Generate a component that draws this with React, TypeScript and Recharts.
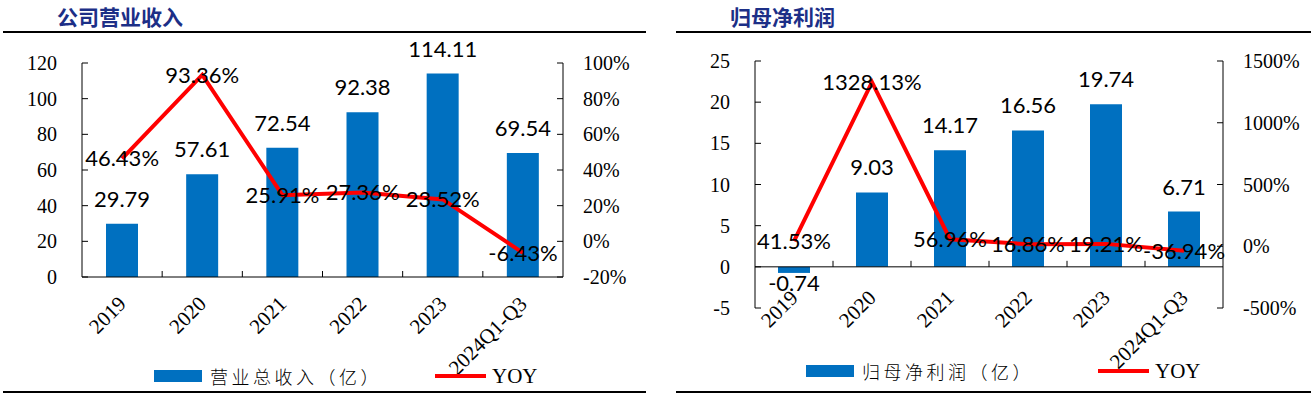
import React from "react";
import { Bar, ComposedChart, LabelList, Line, ReferenceLine, XAxis, YAxis } from "recharts";

const years = ["2019", "2020", "2021", "2022", "2023", "2024Q1-Q3"];
const revenue = [29.79, 57.61, 72.54, 92.38, 114.11, 69.54];
const revenueYoy = [46.43, 93.36, 25.91, 27.36, 23.52, -6.43];
const profit = [-0.74, 9.03, 14.17, 16.56, 19.74, 6.71];
const profitYoy = [41.53, 1328.13, 56.96, 16.86, 19.21, -36.94];

const revTicks = [0, 20, 40, 60, 80, 100, 120];
const revYoyTicks = [-20, 0, 20, 40, 60, 80, 100];
const profitTicks = [-5, 0, 5, 10, 15, 20, 25];
const profitYoyTicks = [-500, 0, 500, 1000, 1500];

const BLUE = "#0070C0";
const RED = "#FF0000";
const NAVY = "#1c2f87";
const SERIF = "'Liberation Serif', 'Times New Roman', serif";
const SANS = "Lato, 'Open Sans', sans-serif";
const CJK = "'Noto Sans CJK SC', sans-serif";

type PanelCfg = {
  left: number;
  width: number;
  title: string;
  titleX: number;
  plotL: number; // y-axis x (local)
  plotR: number; // right axis x (local)
  plotTop: number;
  plotBottom: number;
  bars: number[];
  yoy: number[];
  ticks: number[];
  yoyTicks: number[];
  xLabelGap: number;
  legendName: string;
  legendY: number;
  legendRectX: number;
  legendLineX: number;
};

const H = 396;

function Panel({ c }: { c: PanelCfg }) {
  const data = years.map((y, i) => ({ year: y, value: c.bars[i], yoy: c.yoy[i] }));
  const bw = (c.plotR - c.plotL) / years.length;
  const span = c.ticks[c.ticks.length - 1] - c.ticks[0];
  const plotH = c.plotBottom - c.plotTop;
  const zeroY = c.plotTop + ((c.ticks[c.ticks.length - 1] - 0) / span) * plotH;

  const leftTick = (p: any) => (
    <g>
      <line x1={c.plotL} x2={c.plotL + 6} y1={p.y} y2={p.y} stroke="#000" />
      <text x={c.plotL - 25} y={p.y} dy="0.35em" textAnchor="end" fontFamily={SERIF} fontSize={20} fill="#000">
        {p.payload.value}
      </text>
    </g>
  );
  const rightTick = (p: any) => (
    <g>
      <line x1={c.plotR - 6} x2={c.plotR} y1={p.y} y2={p.y} stroke="#000" />
      <text x={c.plotR + 20} y={p.y} dy="0.35em" textAnchor="start" fontFamily={SERIF} fontSize={20} fill="#000">
        {p.payload.value}%
      </text>
    </g>
  );
  const xTick = (p: any) => {
    const ax = p.x;
    const ay = zeroY + c.xLabelGap;
    return (
      <g>
        {p.index > 0 && (
          <line x1={ax - bw / 2} x2={ax - bw / 2} y1={zeroY} y2={zeroY - 6} stroke="#000" />
        )}
        <text
          x={ax}
          y={ay}
          dy="0.35em"
          textAnchor="end"
          transform={`rotate(-45 ${ax} ${ay})`}
          fontFamily={SERIF}
          fontSize={21}
          fill="#000"
        >
          {p.payload.value}
        </text>
      </g>
    );
  };
  const barLabel = (p: any) => {
    const x = Number(p.x), y = Number(p.y), w = Number(p.width), h = Number(p.height);
    const v = Number(p.value);
    const top = Math.min(y, y + h);
    const bottom = Math.max(y, y + h);
    const cx = x + w / 2;
    return (
      <text x={cx} y={v >= 0 ? top - 17 : bottom + 18} textAnchor="middle" fontFamily={SANS} fontSize={22} fill="#000">
        {v.toFixed(2)}
      </text>
    );
  };
  const lineLabel = (p: any) => (
    <text x={p.x} y={p.y} dy="0.35em" textAnchor="middle" fontFamily={SANS} fontSize={22} fill="#000">
      {Number(p.value).toFixed(2)}%
    </text>
  );

  return (
    <div style={{ position: "absolute", left: c.left, top: 0, width: c.width, height: H }}>
      <div
        style={{
          position: "absolute",
          left: c.titleX,
          top: 3,
          fontFamily: CJK,
          fontWeight: 700,
          fontSize: 21,
          color: NAVY,
          lineHeight: "26px",
          whiteSpace: "nowrap",
        }}
      >
        {c.title}
      </div>
      <div style={{ position: "absolute", left: c.left === 0 ? 3 : 16, right: c.left === 0 ? 4 : 0, top: 31, height: 2, background: "#000" }} />
      <div style={{ position: "absolute", left: c.left === 0 ? 3 : 16, right: c.left === 0 ? 4 : 0, top: 391, height: 2, background: "#000" }} />
      <ComposedChart
        width={c.width}
        height={H}
        data={data}
        margin={{ top: c.plotTop, right: 0, left: 0, bottom: 40 }}
        style={{ position: "absolute", left: 0, top: 0 }}
      >
        <XAxis
          dataKey="year"
          xAxisId={0}
          axisLine={false}
          tickLine={false}
          interval={0}
          height={H - c.plotBottom - 40}
          tick={xTick}
        />
        <YAxis
          yAxisId="left"
          orientation="left"
          width={c.plotL}
          domain={[c.ticks[0], c.ticks[c.ticks.length - 1]]}
          ticks={c.ticks}
          interval={0}
          axisLine={{ stroke: "#000" }}
          tickLine={false}
          tick={leftTick}
        />
        <YAxis
          yAxisId="right"
          orientation="right"
          width={c.width - c.plotR}
          domain={[c.yoyTicks[0], c.yoyTicks[c.yoyTicks.length - 1]]}
          ticks={c.yoyTicks}
          interval={0}
          axisLine={{ stroke: "#000" }}
          tickLine={false}
          tick={rightTick}
        />
        <ReferenceLine yAxisId="left" y={0} stroke="#000" strokeWidth={1} />
        <Bar yAxisId="left" dataKey="value" fill={BLUE} barSize={32} isAnimationActive={false}>
          <LabelList dataKey="value" content={barLabel} />
        </Bar>
        <Line
          yAxisId="right"
          dataKey="yoy"
          stroke={RED}
          strokeWidth={4}
          dot={false}
          activeDot={false}
          type="linear"
          isAnimationActive={false}
        >
          <LabelList dataKey="yoy" content={lineLabel} />
        </Line>
      </ComposedChart>
      <div
        style={{
          position: "absolute",
          left: c.legendRectX,
          top: c.legendY - 6,
          width: 48,
          height: 12,
          background: BLUE,
        }}
      />
      <div
        style={{
          position: "absolute",
          left: c.legendRectX + 56,
          top: c.legendY - 12,
          lineHeight: "24px",
          fontFamily: CJK,
          fontWeight: 300,
          fontSize: 18,
          letterSpacing: 3.5,
          color: "#000",
          whiteSpace: "nowrap",
        }}
      >
        {c.legendName}
      </div>
      <div
        style={{
          position: "absolute",
          left: c.legendLineX,
          top: c.legendY - 2,
          width: 51,
          height: 4,
          background: RED,
        }}
      />
      <div
        style={{
          position: "absolute",
          left: c.legendLineX + 57,
          top: c.legendY - 12,
          lineHeight: "24px",
          fontFamily: SERIF,
          fontSize: 21,
          color: "#000",
        }}
      >
        YOY
      </div>
    </div>
  );
}

const leftCfg: PanelCfg = {
  left: 0,
  width: 650,
  title: "公司营业收入",
  titleX: 57,
  plotL: 82,
  plotR: 563,
  plotTop: 63,
  plotBottom: 277,
  bars: revenue,
  yoy: revenueYoy,
  ticks: revTicks,
  yoyTicks: revYoyTicks,
  xLabelGap: 23,
  legendName: "营业总收入（亿）",
  legendY: 376,
  legendRectX: 154,
  legendLineX: 435,
};

const rightCfg: PanelCfg = {
  left: 660,
  width: 651,
  title: "归母净利润",
  titleX: 70,
  plotL: 95,
  plotR: 563,
  plotTop: 61,
  plotBottom: 308,
  bars: profit,
  yoy: profitYoy,
  ticks: profitTicks,
  yoyTicks: profitYoyTicks,
  xLabelGap: 27,
  legendName: "归母净利润（亿）",
  legendY: 371,
  legendRectX: 146,
  legendLineX: 438,
};

export default function App() {
  return (
    <div style={{ position: "absolute", left: 0, top: 0, width: 1311, height: H, background: "#fff", overflow: "hidden" }}>
      <Panel c={leftCfg} />
      <Panel c={rightCfg} />
    </div>
  );
}
